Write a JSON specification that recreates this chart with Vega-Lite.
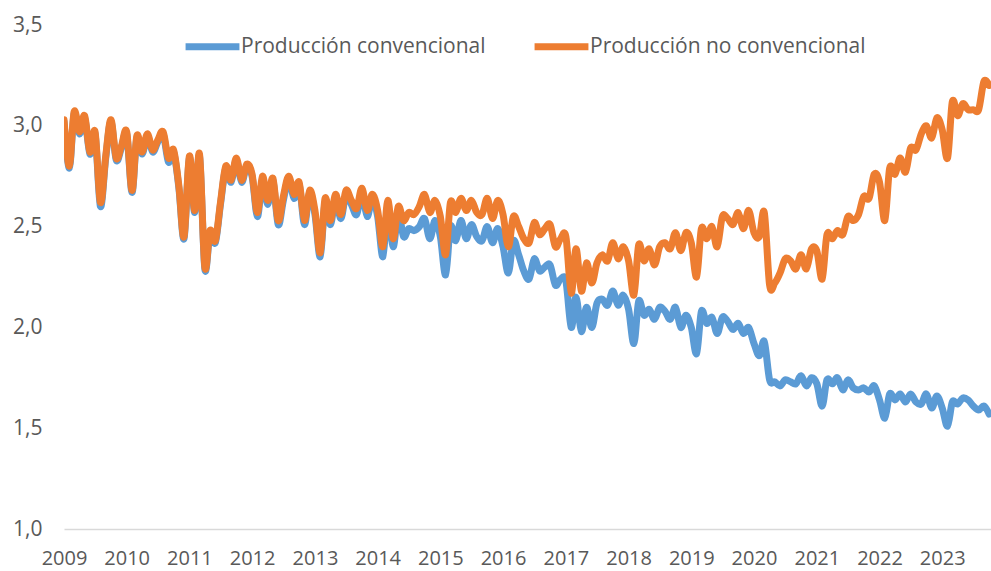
{
"$schema": "https://vega.github.io/schema/vega-lite/v6.json",
"width": 927, "height": 504,
"autosize": {"type": "none"},
"padding": {"left": 64, "top": 25, "right": 0, "bottom": 42},
"background": "white",
"config": {"view": {"stroke": null}, "font": "Open Sans"},
"datasets": {"d": [
{"t":"2009-01-01","s":"Producción convencional","v":3.02},{"t":"2009-01-01","s":"Producción no convencional","v":3.03},
{"t":"2009-02-01","s":"Producción convencional","v":2.79},{"t":"2009-02-01","s":"Producción no convencional","v":2.80},
{"t":"2009-03-01","s":"Producción convencional","v":3.06},{"t":"2009-03-01","s":"Producción no convencional","v":3.07},
{"t":"2009-04-01","s":"Producción convencional","v":2.96},{"t":"2009-04-01","s":"Producción no convencional","v":2.97},
{"t":"2009-05-01","s":"Producción convencional","v":3.04},{"t":"2009-05-01","s":"Producción no convencional","v":3.05},
{"t":"2009-06-01","s":"Producción convencional","v":2.86},{"t":"2009-06-01","s":"Producción no convencional","v":2.87},
{"t":"2009-07-01","s":"Producción convencional","v":2.96},{"t":"2009-07-01","s":"Producción no convencional","v":2.97},
{"t":"2009-08-01","s":"Producción convencional","v":2.60},{"t":"2009-08-01","s":"Producción no convencional","v":2.62},
{"t":"2009-09-01","s":"Producción convencional","v":2.84},{"t":"2009-09-01","s":"Producción no convencional","v":2.85},
{"t":"2009-10-01","s":"Producción convencional","v":3.02},{"t":"2009-10-01","s":"Producción no convencional","v":3.03},
{"t":"2009-11-01","s":"Producción convencional","v":2.83},{"t":"2009-11-01","s":"Producción no convencional","v":2.84},
{"t":"2009-12-01","s":"Producción convencional","v":2.89},{"t":"2009-12-01","s":"Producción no convencional","v":2.90},
{"t":"2010-01-01","s":"Producción convencional","v":2.96},{"t":"2010-01-01","s":"Producción no convencional","v":2.97},
{"t":"2010-02-01","s":"Producción convencional","v":2.67},{"t":"2010-02-01","s":"Producción no convencional","v":2.68},
{"t":"2010-03-01","s":"Producción convencional","v":2.94},{"t":"2010-03-01","s":"Producción no convencional","v":2.95},
{"t":"2010-04-01","s":"Producción convencional","v":2.86},{"t":"2010-04-01","s":"Producción no convencional","v":2.87},
{"t":"2010-05-01","s":"Producción convencional","v":2.95},{"t":"2010-05-01","s":"Producción no convencional","v":2.96},
{"t":"2010-06-01","s":"Producción convencional","v":2.87},{"t":"2010-06-01","s":"Producción no convencional","v":2.88},
{"t":"2010-07-01","s":"Producción convencional","v":2.92},{"t":"2010-07-01","s":"Producción no convencional","v":2.93},
{"t":"2010-08-01","s":"Producción convencional","v":2.96},{"t":"2010-08-01","s":"Producción no convencional","v":2.97},
{"t":"2010-09-01","s":"Producción convencional","v":2.82},{"t":"2010-09-01","s":"Producción no convencional","v":2.84},
{"t":"2010-10-01","s":"Producción convencional","v":2.87},{"t":"2010-10-01","s":"Producción no convencional","v":2.88},
{"t":"2010-11-01","s":"Producción convencional","v":2.69},{"t":"2010-11-01","s":"Producción no convencional","v":2.70},
{"t":"2010-12-01","s":"Producción convencional","v":2.44},{"t":"2010-12-01","s":"Producción no convencional","v":2.45},
{"t":"2011-01-01","s":"Producción convencional","v":2.84},{"t":"2011-01-01","s":"Producción no convencional","v":2.85},
{"t":"2011-02-01","s":"Producción convencional","v":2.57},{"t":"2011-02-01","s":"Producción no convencional","v":2.58},
{"t":"2011-03-01","s":"Producción convencional","v":2.85},{"t":"2011-03-01","s":"Producción no convencional","v":2.86},
{"t":"2011-04-01","s":"Producción convencional","v":2.29},{"t":"2011-04-01","s":"Producción no convencional","v":2.30},
{"t":"2011-05-01","s":"Producción convencional","v":2.47},{"t":"2011-05-01","s":"Producción no convencional","v":2.48},
{"t":"2011-06-01","s":"Producción convencional","v":2.42},{"t":"2011-06-01","s":"Producción no convencional","v":2.43},
{"t":"2011-07-01","s":"Producción convencional","v":2.61},{"t":"2011-07-01","s":"Producción no convencional","v":2.62},
{"t":"2011-08-01","s":"Producción convencional","v":2.79},{"t":"2011-08-01","s":"Producción no convencional","v":2.80},
{"t":"2011-09-01","s":"Producción convencional","v":2.72},{"t":"2011-09-01","s":"Producción no convencional","v":2.73},
{"t":"2011-10-01","s":"Producción convencional","v":2.83},{"t":"2011-10-01","s":"Producción no convencional","v":2.84},
{"t":"2011-11-01","s":"Producción convencional","v":2.72},{"t":"2011-11-01","s":"Producción no convencional","v":2.73},
{"t":"2011-12-01","s":"Producción convencional","v":2.80},{"t":"2011-12-01","s":"Producción no convencional","v":2.81},
{"t":"2012-01-01","s":"Producción convencional","v":2.75},{"t":"2012-01-01","s":"Producción no convencional","v":2.76},
{"t":"2012-02-01","s":"Producción convencional","v":2.55},{"t":"2012-02-01","s":"Producción no convencional","v":2.57},
{"t":"2012-03-01","s":"Producción convencional","v":2.73},{"t":"2012-03-01","s":"Producción no convencional","v":2.75},
{"t":"2012-04-01","s":"Producción convencional","v":2.61},{"t":"2012-04-01","s":"Producción no convencional","v":2.63},
{"t":"2012-05-01","s":"Producción convencional","v":2.73},{"t":"2012-05-01","s":"Producción no convencional","v":2.74},
{"t":"2012-06-01","s":"Producción convencional","v":2.51},{"t":"2012-06-01","s":"Producción no convencional","v":2.53},
{"t":"2012-07-01","s":"Producción convencional","v":2.63},{"t":"2012-07-01","s":"Producción no convencional","v":2.65},
{"t":"2012-08-01","s":"Producción convencional","v":2.74},{"t":"2012-08-01","s":"Producción no convencional","v":2.75},
{"t":"2012-09-01","s":"Producción convencional","v":2.64},{"t":"2012-09-01","s":"Producción no convencional","v":2.66},
{"t":"2012-10-01","s":"Producción convencional","v":2.71},{"t":"2012-10-01","s":"Producción no convencional","v":2.72},
{"t":"2012-11-01","s":"Producción convencional","v":2.51},{"t":"2012-11-01","s":"Producción no convencional","v":2.53},
{"t":"2012-12-01","s":"Producción convencional","v":2.67},{"t":"2012-12-01","s":"Producción no convencional","v":2.68},
{"t":"2013-01-01","s":"Producción convencional","v":2.56},{"t":"2013-01-01","s":"Producción no convencional","v":2.58},
{"t":"2013-02-01","s":"Producción convencional","v":2.35},{"t":"2013-02-01","s":"Producción no convencional","v":2.37},
{"t":"2013-03-01","s":"Producción convencional","v":2.62},{"t":"2013-03-01","s":"Producción no convencional","v":2.64},
{"t":"2013-04-01","s":"Producción convencional","v":2.51},{"t":"2013-04-01","s":"Producción no convencional","v":2.53},
{"t":"2013-05-01","s":"Producción convencional","v":2.64},{"t":"2013-05-01","s":"Producción no convencional","v":2.66},
{"t":"2013-06-01","s":"Producción convencional","v":2.54},{"t":"2013-06-01","s":"Producción no convencional","v":2.56},
{"t":"2013-07-01","s":"Producción convencional","v":2.66},{"t":"2013-07-01","s":"Producción no convencional","v":2.68},
{"t":"2013-08-01","s":"Producción convencional","v":2.61},{"t":"2013-08-01","s":"Producción no convencional","v":2.63},
{"t":"2013-09-01","s":"Producción convencional","v":2.56},{"t":"2013-09-01","s":"Producción no convencional","v":2.59},
{"t":"2013-10-01","s":"Producción convencional","v":2.67},{"t":"2013-10-01","s":"Producción no convencional","v":2.69},
{"t":"2013-11-01","s":"Producción convencional","v":2.55},{"t":"2013-11-01","s":"Producción no convencional","v":2.58},
{"t":"2013-12-01","s":"Producción convencional","v":2.64},{"t":"2013-12-01","s":"Producción no convencional","v":2.66},
{"t":"2014-01-01","s":"Producción convencional","v":2.55},{"t":"2014-01-01","s":"Producción no convencional","v":2.58},
{"t":"2014-02-01","s":"Producción convencional","v":2.35},{"t":"2014-02-01","s":"Producción no convencional","v":2.40},
{"t":"2014-03-01","s":"Producción convencional","v":2.60},{"t":"2014-03-01","s":"Producción no convencional","v":2.63},
{"t":"2014-04-01","s":"Producción convencional","v":2.40},{"t":"2014-04-01","s":"Producción no convencional","v":2.44},
{"t":"2014-05-01","s":"Producción convencional","v":2.57},{"t":"2014-05-01","s":"Producción no convencional","v":2.60},
{"t":"2014-06-01","s":"Producción convencional","v":2.45},{"t":"2014-06-01","s":"Producción no convencional","v":2.53},
{"t":"2014-07-01","s":"Producción convencional","v":2.49},{"t":"2014-07-01","s":"Producción no convencional","v":2.57},
{"t":"2014-08-01","s":"Producción convencional","v":2.48},{"t":"2014-08-01","s":"Producción no convencional","v":2.56},
{"t":"2014-09-01","s":"Producción convencional","v":2.50},{"t":"2014-09-01","s":"Producción no convencional","v":2.60},
{"t":"2014-10-01","s":"Producción convencional","v":2.54},{"t":"2014-10-01","s":"Producción no convencional","v":2.66},
{"t":"2014-11-01","s":"Producción convencional","v":2.44},{"t":"2014-11-01","s":"Producción no convencional","v":2.57},
{"t":"2014-12-01","s":"Producción convencional","v":2.53},{"t":"2014-12-01","s":"Producción no convencional","v":2.63},
{"t":"2015-01-01","s":"Producción convencional","v":2.45},{"t":"2015-01-01","s":"Producción no convencional","v":2.55},
{"t":"2015-02-01","s":"Producción convencional","v":2.26},{"t":"2015-02-01","s":"Producción no convencional","v":2.36},
{"t":"2015-03-01","s":"Producción convencional","v":2.50},{"t":"2015-03-01","s":"Producción no convencional","v":2.62},
{"t":"2015-04-01","s":"Producción convencional","v":2.43},{"t":"2015-04-01","s":"Producción no convencional","v":2.57},
{"t":"2015-05-01","s":"Producción convencional","v":2.53},{"t":"2015-05-01","s":"Producción no convencional","v":2.64},
{"t":"2015-06-01","s":"Producción convencional","v":2.44},{"t":"2015-06-01","s":"Producción no convencional","v":2.58},
{"t":"2015-07-01","s":"Producción convencional","v":2.51},{"t":"2015-07-01","s":"Producción no convencional","v":2.63},
{"t":"2015-08-01","s":"Producción convencional","v":2.45},{"t":"2015-08-01","s":"Producción no convencional","v":2.57},
{"t":"2015-09-01","s":"Producción convencional","v":2.43},{"t":"2015-09-01","s":"Producción no convencional","v":2.56},
{"t":"2015-10-01","s":"Producción convencional","v":2.50},{"t":"2015-10-01","s":"Producción no convencional","v":2.64},
{"t":"2015-11-01","s":"Producción convencional","v":2.42},{"t":"2015-11-01","s":"Producción no convencional","v":2.54},
{"t":"2015-12-01","s":"Producción convencional","v":2.49},{"t":"2015-12-01","s":"Producción no convencional","v":2.63},
{"t":"2016-01-01","s":"Producción convencional","v":2.40},{"t":"2016-01-01","s":"Producción no convencional","v":2.56},
{"t":"2016-02-01","s":"Producción convencional","v":2.27},{"t":"2016-02-01","s":"Producción no convencional","v":2.40},
{"t":"2016-03-01","s":"Producción convencional","v":2.43},{"t":"2016-03-01","s":"Producción no convencional","v":2.55},
{"t":"2016-04-01","s":"Producción convencional","v":2.36},{"t":"2016-04-01","s":"Producción no convencional","v":2.50},
{"t":"2016-05-01","s":"Producción convencional","v":2.28},{"t":"2016-05-01","s":"Producción no convencional","v":2.44},
{"t":"2016-06-01","s":"Producción convencional","v":2.24},{"t":"2016-06-01","s":"Producción no convencional","v":2.42},
{"t":"2016-07-01","s":"Producción convencional","v":2.34},{"t":"2016-07-01","s":"Producción no convencional","v":2.52},
{"t":"2016-08-01","s":"Producción convencional","v":2.28},{"t":"2016-08-01","s":"Producción no convencional","v":2.46},
{"t":"2016-09-01","s":"Producción convencional","v":2.30},{"t":"2016-09-01","s":"Producción no convencional","v":2.49},
{"t":"2016-10-01","s":"Producción convencional","v":2.31},{"t":"2016-10-01","s":"Producción no convencional","v":2.51},
{"t":"2016-11-01","s":"Producción convencional","v":2.21},{"t":"2016-11-01","s":"Producción no convencional","v":2.40},
{"t":"2016-12-01","s":"Producción convencional","v":2.24},{"t":"2016-12-01","s":"Producción no convencional","v":2.44},
{"t":"2017-01-01","s":"Producción convencional","v":2.23},{"t":"2017-01-01","s":"Producción no convencional","v":2.45},
{"t":"2017-02-01","s":"Producción convencional","v":2.00},{"t":"2017-02-01","s":"Producción no convencional","v":2.17},
{"t":"2017-03-01","s":"Producción convencional","v":2.15},{"t":"2017-03-01","s":"Producción no convencional","v":2.39},
{"t":"2017-04-01","s":"Producción convencional","v":1.98},{"t":"2017-04-01","s":"Producción no convencional","v":2.18},
{"t":"2017-05-01","s":"Producción convencional","v":2.10},{"t":"2017-05-01","s":"Producción no convencional","v":2.32},
{"t":"2017-06-01","s":"Producción convencional","v":2.00},{"t":"2017-06-01","s":"Producción no convencional","v":2.22},
{"t":"2017-07-01","s":"Producción convencional","v":2.12},{"t":"2017-07-01","s":"Producción no convencional","v":2.32},
{"t":"2017-08-01","s":"Producción convencional","v":2.14},{"t":"2017-08-01","s":"Producción no convencional","v":2.36},
{"t":"2017-09-01","s":"Producción convencional","v":2.11},{"t":"2017-09-01","s":"Producción no convencional","v":2.33},
{"t":"2017-10-01","s":"Producción convencional","v":2.18},{"t":"2017-10-01","s":"Producción no convencional","v":2.42},
{"t":"2017-11-01","s":"Producción convencional","v":2.11},{"t":"2017-11-01","s":"Producción no convencional","v":2.34},
{"t":"2017-12-01","s":"Producción convencional","v":2.16},{"t":"2017-12-01","s":"Producción no convencional","v":2.40},
{"t":"2018-01-01","s":"Producción convencional","v":2.09},{"t":"2018-01-01","s":"Producción no convencional","v":2.33},
{"t":"2018-02-01","s":"Producción convencional","v":1.92},{"t":"2018-02-01","s":"Producción no convencional","v":2.16},
{"t":"2018-03-01","s":"Producción convencional","v":2.13},{"t":"2018-03-01","s":"Producción no convencional","v":2.41},
{"t":"2018-04-01","s":"Producción convencional","v":2.06},{"t":"2018-04-01","s":"Producción no convencional","v":2.33},
{"t":"2018-05-01","s":"Producción convencional","v":2.09},{"t":"2018-05-01","s":"Producción no convencional","v":2.39},
{"t":"2018-06-01","s":"Producción convencional","v":2.04},{"t":"2018-06-01","s":"Producción no convencional","v":2.31},
{"t":"2018-07-01","s":"Producción convencional","v":2.10},{"t":"2018-07-01","s":"Producción no convencional","v":2.40},
{"t":"2018-08-01","s":"Producción convencional","v":2.08},{"t":"2018-08-01","s":"Producción no convencional","v":2.42},
{"t":"2018-09-01","s":"Producción convencional","v":2.04},{"t":"2018-09-01","s":"Producción no convencional","v":2.39},
{"t":"2018-10-01","s":"Producción convencional","v":2.10},{"t":"2018-10-01","s":"Producción no convencional","v":2.47},
{"t":"2018-11-01","s":"Producción convencional","v":2.00},{"t":"2018-11-01","s":"Producción no convencional","v":2.38},
{"t":"2018-12-01","s":"Producción convencional","v":2.06},{"t":"2018-12-01","s":"Producción no convencional","v":2.47},
{"t":"2019-01-01","s":"Producción convencional","v":2.00},{"t":"2019-01-01","s":"Producción no convencional","v":2.42},
{"t":"2019-02-01","s":"Producción convencional","v":1.87},{"t":"2019-02-01","s":"Producción no convencional","v":2.25},
{"t":"2019-03-01","s":"Producción convencional","v":2.08},{"t":"2019-03-01","s":"Producción no convencional","v":2.49},
{"t":"2019-04-01","s":"Producción convencional","v":2.02},{"t":"2019-04-01","s":"Producción no convencional","v":2.44},
{"t":"2019-05-01","s":"Producción convencional","v":2.05},{"t":"2019-05-01","s":"Producción no convencional","v":2.50},
{"t":"2019-06-01","s":"Producción convencional","v":1.97},{"t":"2019-06-01","s":"Producción no convencional","v":2.40},
{"t":"2019-07-01","s":"Producción convencional","v":2.05},{"t":"2019-07-01","s":"Producción no convencional","v":2.55},
{"t":"2019-08-01","s":"Producción convencional","v":2.03},{"t":"2019-08-01","s":"Producción no convencional","v":2.54},
{"t":"2019-09-01","s":"Producción convencional","v":1.99},{"t":"2019-09-01","s":"Producción no convencional","v":2.51},
{"t":"2019-10-01","s":"Producción convencional","v":2.02},{"t":"2019-10-01","s":"Producción no convencional","v":2.57},
{"t":"2019-11-01","s":"Producción convencional","v":1.97},{"t":"2019-11-01","s":"Producción no convencional","v":2.49},
{"t":"2019-12-01","s":"Producción convencional","v":2.00},{"t":"2019-12-01","s":"Producción no convencional","v":2.58},
{"t":"2020-01-01","s":"Producción convencional","v":1.92},{"t":"2020-01-01","s":"Producción no convencional","v":2.47},
{"t":"2020-02-01","s":"Producción convencional","v":1.86},{"t":"2020-02-01","s":"Producción no convencional","v":2.45},
{"t":"2020-03-01","s":"Producción convencional","v":1.93},{"t":"2020-03-01","s":"Producción no convencional","v":2.57},
{"t":"2020-04-01","s":"Producción convencional","v":1.74},{"t":"2020-04-01","s":"Producción no convencional","v":2.21},
{"t":"2020-05-01","s":"Producción convencional","v":1.73},{"t":"2020-05-01","s":"Producción no convencional","v":2.22},
{"t":"2020-06-01","s":"Producción convencional","v":1.71},{"t":"2020-06-01","s":"Producción no convencional","v":2.27},
{"t":"2020-07-01","s":"Producción convencional","v":1.74},{"t":"2020-07-01","s":"Producción no convencional","v":2.34},
{"t":"2020-08-01","s":"Producción convencional","v":1.73},{"t":"2020-08-01","s":"Producción no convencional","v":2.33},
{"t":"2020-09-01","s":"Producción convencional","v":1.72},{"t":"2020-09-01","s":"Producción no convencional","v":2.29},
{"t":"2020-10-01","s":"Producción convencional","v":1.76},{"t":"2020-10-01","s":"Producción no convencional","v":2.36},
{"t":"2020-11-01","s":"Producción convencional","v":1.71},{"t":"2020-11-01","s":"Producción no convencional","v":2.29},
{"t":"2020-12-01","s":"Producción convencional","v":1.75},{"t":"2020-12-01","s":"Producción no convencional","v":2.39},
{"t":"2021-01-01","s":"Producción convencional","v":1.72},{"t":"2021-01-01","s":"Producción no convencional","v":2.38},
{"t":"2021-02-01","s":"Producción convencional","v":1.61},{"t":"2021-02-01","s":"Producción no convencional","v":2.24},
{"t":"2021-03-01","s":"Producción convencional","v":1.74},{"t":"2021-03-01","s":"Producción no convencional","v":2.46},
{"t":"2021-04-01","s":"Producción convencional","v":1.72},{"t":"2021-04-01","s":"Producción no convencional","v":2.44},
{"t":"2021-05-01","s":"Producción convencional","v":1.75},{"t":"2021-05-01","s":"Producción no convencional","v":2.48},
{"t":"2021-06-01","s":"Producción convencional","v":1.69},{"t":"2021-06-01","s":"Producción no convencional","v":2.46},
{"t":"2021-07-01","s":"Producción convencional","v":1.74},{"t":"2021-07-01","s":"Producción no convencional","v":2.55},
{"t":"2021-08-01","s":"Producción convencional","v":1.70},{"t":"2021-08-01","s":"Producción no convencional","v":2.53},
{"t":"2021-09-01","s":"Producción convencional","v":1.69},{"t":"2021-09-01","s":"Producción no convencional","v":2.56},
{"t":"2021-10-01","s":"Producción convencional","v":1.70},{"t":"2021-10-01","s":"Producción no convencional","v":2.65},
{"t":"2021-11-01","s":"Producción convencional","v":1.68},{"t":"2021-11-01","s":"Producción no convencional","v":2.64},
{"t":"2021-12-01","s":"Producción convencional","v":1.71},{"t":"2021-12-01","s":"Producción no convencional","v":2.76},
{"t":"2022-01-01","s":"Producción convencional","v":1.64},{"t":"2022-01-01","s":"Producción no convencional","v":2.72},
{"t":"2022-02-01","s":"Producción convencional","v":1.55},{"t":"2022-02-01","s":"Producción no convencional","v":2.53},
{"t":"2022-03-01","s":"Producción convencional","v":1.67},{"t":"2022-03-01","s":"Producción no convencional","v":2.79},
{"t":"2022-04-01","s":"Producción convencional","v":1.64},{"t":"2022-04-01","s":"Producción no convencional","v":2.76},
{"t":"2022-05-01","s":"Producción convencional","v":1.67},{"t":"2022-05-01","s":"Producción no convencional","v":2.84},
{"t":"2022-06-01","s":"Producción convencional","v":1.63},{"t":"2022-06-01","s":"Producción no convencional","v":2.77},
{"t":"2022-07-01","s":"Producción convencional","v":1.67},{"t":"2022-07-01","s":"Producción no convencional","v":2.89},
{"t":"2022-08-01","s":"Producción convencional","v":1.63},{"t":"2022-08-01","s":"Producción no convencional","v":2.88},
{"t":"2022-09-01","s":"Producción convencional","v":1.62},{"t":"2022-09-01","s":"Producción no convencional","v":2.96},
{"t":"2022-10-01","s":"Producción convencional","v":1.67},{"t":"2022-10-01","s":"Producción no convencional","v":3.00},
{"t":"2022-11-01","s":"Producción convencional","v":1.60},{"t":"2022-11-01","s":"Producción no convencional","v":2.94},
{"t":"2022-12-01","s":"Producción convencional","v":1.66},{"t":"2022-12-01","s":"Producción no convencional","v":3.04},
{"t":"2023-01-01","s":"Producción convencional","v":1.60},{"t":"2023-01-01","s":"Producción no convencional","v":2.98},
{"t":"2023-02-01","s":"Producción convencional","v":1.51},{"t":"2023-02-01","s":"Producción no convencional","v":2.84},
{"t":"2023-03-01","s":"Producción convencional","v":1.63},{"t":"2023-03-01","s":"Producción no convencional","v":3.12},
{"t":"2023-04-01","s":"Producción convencional","v":1.62},{"t":"2023-04-01","s":"Producción no convencional","v":3.05},
{"t":"2023-05-01","s":"Producción convencional","v":1.65},{"t":"2023-05-01","s":"Producción no convencional","v":3.11},
{"t":"2023-06-01","s":"Producción convencional","v":1.64},{"t":"2023-06-01","s":"Producción no convencional","v":3.08},
{"t":"2023-07-01","s":"Producción convencional","v":1.61},{"t":"2023-07-01","s":"Producción no convencional","v":3.08},
{"t":"2023-08-01","s":"Producción convencional","v":1.59},{"t":"2023-08-01","s":"Producción no convencional","v":3.08},
{"t":"2023-09-01","s":"Producción convencional","v":1.61},{"t":"2023-09-01","s":"Producción no convencional","v":3.22},
{"t":"2023-10-01","s":"Producción convencional","v":1.57},{"t":"2023-10-01","s":"Producción no convencional","v":3.20}
]},
"data": {"name": "d"},
"mark": {"type": "line", "interpolate": "cardinal", "strokeWidth": 7, "strokeCap": "round", "strokeJoin": "round", "clip": true},
"encoding": {
  "x": {"field": "t", "type": "temporal",
    "scale": {"domain": [{"year": 2009, "month": 1, "date": 1, "utc": true}, {"year": 2023, "month": 10, "date": 12, "utc": true}]},
    "axis": {"title": null, "format": "%Y", "tickCount": {"interval": "year", "step": 1}, "labelOverlap": false, "labelFlush": false,
      "ticks": false, "grid": false, "domainColor": "#D9D9D9", "domainWidth": 1.5,
      "labelFontSize": 20, "labelColor": "#595959", "labelPadding": 19}},
  "y": {"field": "v", "type": "quantitative",
    "scale": {"domain": [1, 3.5], "nice": false, "zero": false},
    "axis": {"title": null, "values": [1, 1.5, 2, 2.5, 3, 3.5], "labelExpr": "replace(format(datum.value, '.1f'), '.', ',')",
      "grid": false, "domain": false, "ticks": false, "labelFontSize": 21, "labelColor": "#595959", "labelPadding": 22}},
  "color": {"field": "s", "type": "nominal",
    "scale": {"domain": ["Producción convencional", "Producción no convencional"], "range": ["#5B9BD5", "#ED7D31"]},
    "legend": {"orient": "none", "legendX": 118, "legendY": -9, "direction": "horizontal", "title": null,
      "symbolType": "stroke", "symbolSize": 2900, "symbolStrokeWidth": 7, "labelFontSize": 21, "labelColor": "#595959",
      "labelOffset": -2, "columnPadding": 34, "labelLimit": 400}}
}
}
